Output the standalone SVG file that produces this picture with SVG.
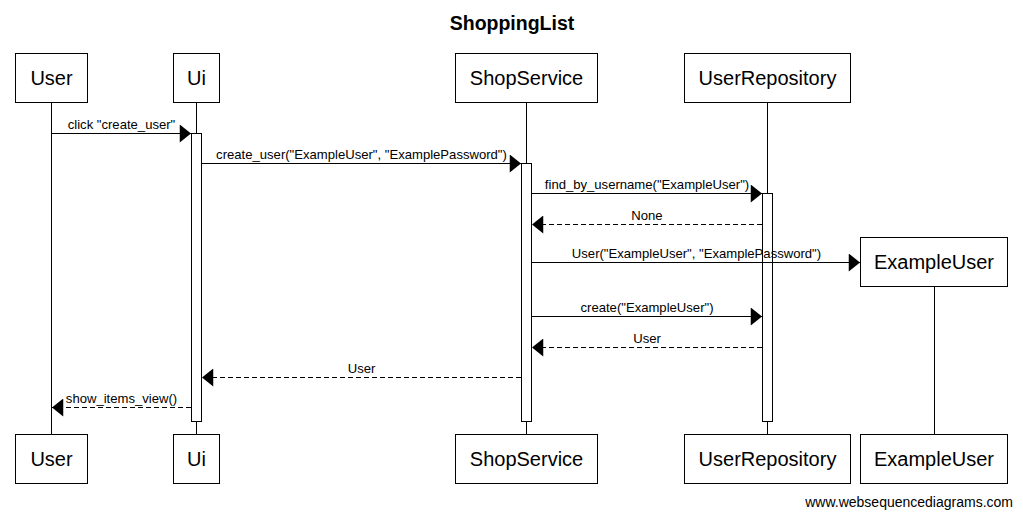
<svg xmlns="http://www.w3.org/2000/svg" width="1023" height="517" viewBox="0 0 1023 517">
<style>
.box{fill:#fff;stroke:#000;stroke-width:1}
.life{stroke:#000;stroke-width:1}
.act{fill:#fff;stroke:#000;stroke-width:1}
.msg{stroke:#000;stroke-width:1;fill:none}
.ret{stroke:#000;stroke-width:1;fill:none;stroke-dasharray:5,3}
.actor{font-family:"Liberation Sans",Arial,sans-serif;font-size:20px;text-anchor:middle;fill:#000}
.lbl{font-family:"Liberation Sans",Arial,sans-serif;font-size:13.1px;text-anchor:middle;fill:#000}
.title{font-family:"Liberation Sans",Arial,sans-serif;font-size:19.5px;font-weight:bold;text-anchor:middle;fill:#000}
.foot{font-family:"Liberation Sans",Arial,sans-serif;font-size:14px;text-anchor:end;fill:#000}
</style>
<defs>
<marker id="ah" markerUnits="userSpaceOnUse" markerWidth="12" markerHeight="18" viewBox="0 0 10 16" refX="10" refY="8" orient="auto">
<path d="M0,0 L10,8 L0,16 Z" fill="#000" stroke="none"/>
</marker>
</defs>
<text class="title" x="512" y="30">ShoppingList</text>

<g id="lifelines">
<line class="life" x1="51.5" y1="102" x2="51.5" y2="434"/>
<line class="life" x1="196.5" y1="102" x2="196.5" y2="434"/>
<line class="life" x1="526.5" y1="102" x2="526.5" y2="434"/>
<line class="life" x1="767.5" y1="102" x2="767.5" y2="434"/>
<line class="life" x1="934.5" y1="286" x2="934.5" y2="434"/>
</g>

<g id="activations">
<rect class="act" x="191.5" y="133.5" width="10" height="288"/>
<rect class="act" x="521.5" y="163.5" width="10" height="258"/>
<rect class="act" x="762.5" y="193.5" width="10" height="228"/>
</g>

<g id="User">
<rect class="box" x="15.5" y="53.5" width="72" height="49"/>
<text class="actor" x="51.5" y="85">User</text>
<rect class="box" x="15.5" y="434.5" width="72" height="49"/>
<text class="actor" x="51.5" y="466">User</text>
</g>
<g id="Ui">
<rect class="box" x="173.5" y="53.5" width="46" height="49"/>
<text class="actor" x="196.5" y="85">Ui</text>
<rect class="box" x="173.5" y="434.5" width="46" height="49"/>
<text class="actor" x="196.5" y="466">Ui</text>
</g>
<g id="ShopService">
<rect class="box" x="455.5" y="53.5" width="142" height="49"/>
<text class="actor" x="526.5" y="85">ShopService</text>
<rect class="box" x="455.5" y="434.5" width="142" height="49"/>
<text class="actor" x="526.5" y="466">ShopService</text>
</g>
<g id="UserRepository">
<rect class="box" x="684.5" y="53.5" width="166" height="49"/>
<text class="actor" x="767.5" y="85">UserRepository</text>
<rect class="box" x="684.5" y="434.5" width="166" height="49"/>
<text class="actor" x="767.5" y="466">UserRepository</text>
</g>
<g id="ExampleUser">
<rect class="box" x="860.5" y="237.5" width="147" height="49"/>
<text class="actor" x="934" y="269">ExampleUser</text>
<rect class="box" x="860.5" y="434.5" width="147" height="49"/>
<text class="actor" x="934" y="466">ExampleUser</text>
</g>

<g id="connectors">
<line class="msg" x1="51.5" y1="133.5" x2="191" y2="133.5" marker-end="url(#ah)"/>
<text class="lbl" x="121.5" y="129">click "create_user"</text>

<line class="msg" x1="202" y1="163.5" x2="521" y2="163.5" marker-end="url(#ah)"/>
<text class="lbl" x="361.5" y="159">create_user("ExampleUser", "ExamplePassword")</text>

<line class="msg" x1="532" y1="193.5" x2="762" y2="193.5" marker-end="url(#ah)"/>
<text class="lbl" x="647" y="189">find_by_username("ExampleUser")</text>

<line class="ret" x1="762" y1="224.5" x2="532" y2="224.5" marker-end="url(#ah)"/>
<text class="lbl" x="647" y="220">None</text>

<line class="msg" x1="532" y1="262.5" x2="860" y2="262.5" marker-end="url(#ah)"/>
<text class="lbl" x="696.5" y="258">User("ExampleUser", "ExamplePassword")</text>

<line class="msg" x1="532" y1="316.5" x2="762" y2="316.5" marker-end="url(#ah)"/>
<text class="lbl" x="647" y="312">create("ExampleUser")</text>

<line class="ret" x1="762" y1="347.5" x2="532" y2="347.5" marker-end="url(#ah)"/>
<text class="lbl" x="647" y="343">User</text>

<line class="ret" x1="521" y1="377.5" x2="202" y2="377.5" marker-end="url(#ah)"/>
<text class="lbl" x="361.5" y="373">User</text>

<line class="ret" x1="191" y1="407.5" x2="52" y2="407.5" marker-end="url(#ah)"/>
<text class="lbl" x="121.5" y="403">show_items_view()</text>
</g>

<text class="foot" x="1013" y="507">www.websequencediagrams.com</text>
</svg>
